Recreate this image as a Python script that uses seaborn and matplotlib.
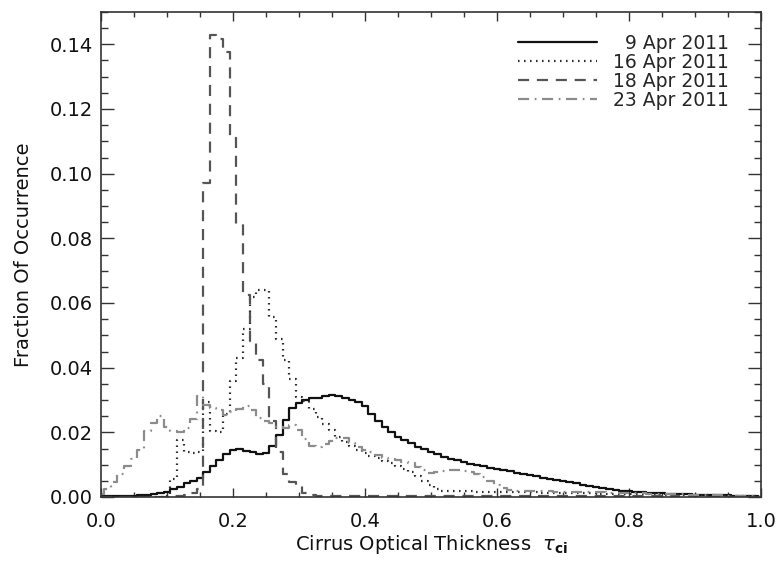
import numpy as np
import pandas as pd
import matplotlib
matplotlib.use("Agg")
import matplotlib.pyplot as plt
from matplotlib.ticker import MultipleLocator, FormatStrFormatter
import seaborn as sns

# ---------------- data (bin centres of the optical-thickness histogram) -------------
tau_centers = np.round(np.linspace(0.0, 1.0, 101), 2)
dates = ["9 Apr 2011", "16 Apr 2011", "18 Apr 2011", "23 Apr 2011"]

apr09 = [
    0.0004, 0.0002, 0.0002, 0.0002, 0.0003, 0.0004, 0.0005, 0.0007, 0.0009, 0.0011,
    0.0014, 0.0024, 0.0032, 0.0042, 0.0050, 0.0060, 0.0078, 0.0096, 0.0115, 0.0133,
    0.0145, 0.0147, 0.0143, 0.0138, 0.0134, 0.0135, 0.0158, 0.0192, 0.0238, 0.0274,
    0.0292, 0.0300, 0.0305, 0.0307, 0.0311, 0.0314, 0.0312, 0.0305, 0.0300, 0.0293,
    0.0280, 0.0258, 0.0236, 0.0216, 0.0200, 0.0187, 0.0176, 0.0166, 0.0156, 0.0147,
    0.0139, 0.0132, 0.0125, 0.0119, 0.0113, 0.0108, 0.0103, 0.0099, 0.0095, 0.0091,
    0.0087, 0.0083, 0.0079, 0.0075, 0.0071, 0.0068, 0.0064, 0.0060, 0.0056, 0.0052,
    0.0049, 0.0045, 0.0042, 0.0038, 0.0035, 0.0031, 0.0028, 0.0025, 0.0022, 0.0020,
    0.0018, 0.0016, 0.0014, 0.0013, 0.0012, 0.0011, 0.0010, 0.0009, 0.0009, 0.0008,
    0.0007, 0.0007, 0.0006, 0.0006, 0.0005, 0.0005, 0.0004, 0.0003, 0.0003, 0.0002,
    0.0001,
]
apr16 = [
    0.0000, 0.0000, 0.0000, 0.0000, 0.0000, 0.0000, 0.0000, 0.0000, 0.0000, 0.0001,
    0.0004, 0.0055, 0.0176, 0.0140, 0.0135, 0.0140, 0.0295, 0.0205, 0.0202, 0.0258,
    0.0360, 0.0430, 0.0520, 0.0620, 0.0640, 0.0640, 0.0557, 0.0490, 0.0425, 0.0365,
    0.0308, 0.0298, 0.0272, 0.0247, 0.0226, 0.0206, 0.0187, 0.0171, 0.0157, 0.0146,
    0.0136, 0.0128, 0.0120, 0.0112, 0.0104, 0.0096, 0.0086, 0.0076, 0.0064, 0.0050,
    0.0036, 0.0024, 0.0020, 0.0019, 0.0019, 0.0018, 0.0018, 0.0017, 0.0017, 0.0016,
    0.0016, 0.0015, 0.0015, 0.0015, 0.0014, 0.0014, 0.0014, 0.0013, 0.0013, 0.0013,
    0.0012, 0.0012, 0.0012, 0.0011, 0.0011, 0.0011, 0.0010, 0.0010, 0.0010, 0.0009,
    0.0009, 0.0009, 0.0008, 0.0008, 0.0008, 0.0007, 0.0007, 0.0007, 0.0006, 0.0006,
    0.0006, 0.0005, 0.0005, 0.0005, 0.0004, 0.0004, 0.0004, 0.0003, 0.0003, 0.0002,
    0.0001,
]
apr18 = [
    0.0000, 0.0000, 0.0000, 0.0000, 0.0000, 0.0000, 0.0000, 0.0000, 0.0000, 0.0000,
    0.0001, 0.0002, 0.0004, 0.0007, 0.0012, 0.0025, 0.0970, 0.1428, 0.1418, 0.1375,
    0.1110, 0.0844, 0.0624, 0.0483, 0.0424, 0.0351, 0.0236, 0.0138, 0.0070, 0.0045,
    0.0035, 0.0013, 0.0005, 0.0003, 0.0003, 0.0003, 0.0003, 0.0003, 0.0003, 0.0003,
    0.0003, 0.0003, 0.0003, 0.0003, 0.0003, 0.0003, 0.0003, 0.0003, 0.0003, 0.0003,
    0.0003, 0.0003, 0.0003, 0.0003, 0.0003, 0.0003, 0.0003, 0.0003, 0.0003, 0.0003,
    0.0003, 0.0003, 0.0003, 0.0003, 0.0003, 0.0003, 0.0003, 0.0003, 0.0002, 0.0002,
    0.0002, 0.0002, 0.0002, 0.0002, 0.0002, 0.0002, 0.0002, 0.0002, 0.0002, 0.0002,
    0.0002, 0.0002, 0.0002, 0.0002, 0.0002, 0.0002, 0.0002, 0.0002, 0.0001, 0.0001,
    0.0001, 0.0001, 0.0001, 0.0001, 0.0001, 0.0001, 0.0001, 0.0001, 0.0001, 0.0001,
    0.0001,
]
apr23 = [
    0.0008, 0.0025, 0.0045, 0.0070, 0.0095, 0.0118, 0.0145, 0.0205, 0.0230, 0.0252,
    0.0215, 0.0205, 0.0200, 0.0212, 0.0240, 0.0312, 0.0285, 0.0275, 0.0268, 0.0255,
    0.0262, 0.0272, 0.0280, 0.0269, 0.0243, 0.0235, 0.0230, 0.0217, 0.0212, 0.0223,
    0.0207, 0.0178, 0.0158, 0.0156, 0.0163, 0.0172, 0.0183, 0.0182, 0.0168, 0.0156,
    0.0146, 0.0140, 0.0130, 0.0122, 0.0118, 0.0114, 0.0109, 0.0104, 0.0094, 0.0082,
    0.0075, 0.0078, 0.0081, 0.0083, 0.0083, 0.0081, 0.0078, 0.0070, 0.0062, 0.0050,
    0.0038, 0.0028, 0.0023, 0.0020, 0.0020, 0.0019, 0.0019, 0.0018, 0.0018, 0.0017,
    0.0017, 0.0016, 0.0016, 0.0015, 0.0015, 0.0014, 0.0014, 0.0013, 0.0013, 0.0012,
    0.0012, 0.0011, 0.0011, 0.0010, 0.0010, 0.0009, 0.0009, 0.0008, 0.0008, 0.0007,
    0.0007, 0.0006, 0.0006, 0.0005, 0.0005, 0.0004, 0.0004, 0.0003, 0.0003, 0.0002,
    0.0001,
]
x_ticks = [0.0, 0.2, 0.4, 0.6, 0.8, 1.0]
y_ticks = [0.00, 0.02, 0.04, 0.06, 0.08, 0.10, 0.12, 0.14]

# ---------------- tidy table --------------------------------------------------------
frames = []
for name, vals in zip(dates, [apr09, apr16, apr18, apr23]):
    frames.append(pd.DataFrame({"tau": tau_centers, "frac": vals, "date": name}))
df = pd.concat(frames, ignore_index=True)

# ---------------- style ------------------------------------------------------------
sns.set_style("ticks")
plt.rcParams["font.family"] = ["DejaVu Sans"]
plt.rcParams["mathtext.fontset"] = "dejavusans"
FS = 14
LFS = 13.5

palette = {"9 Apr 2011": "#111111", "16 Apr 2011": "#2e2e2e",
           "18 Apr 2011": "#555555", "23 Apr 2011": "#8c8c8c"}
dashes = {"9 Apr 2011": "", "16 Apr 2011": (0.7, 2.0),
          "18 Apr 2011": (5, 3.5), "23 Apr 2011": (5, 2.5, 0.8, 2.5)}

fig = plt.figure(figsize=(7.79, 5.70), dpi=100)
ax = fig.add_axes([101 / 779, 73 / 570, 660 / 779, 485 / 570])

sns.lineplot(data=df, x="tau", y="frac", hue="date", style="date",
             hue_order=dates, style_order=dates, palette=palette, dashes=dashes,
             drawstyle="steps-mid", lw=1.6, estimator=None, sort=True, ax=ax)

ax.set_xlim(0, 1.0)
ax.set_ylim(0, 0.15)
ax.set_xticks(x_ticks)
ax.set_yticks(y_ticks)
ax.xaxis.set_major_formatter(FormatStrFormatter("%.1f"))
ax.yaxis.set_major_formatter(FormatStrFormatter("%.2f"))
ax.xaxis.set_minor_locator(MultipleLocator(0.05))
ax.yaxis.set_minor_locator(MultipleLocator(0.005))

ax.tick_params(which="both", direction="in", top=True, right=True,
               color="#333333", width=1.0, labelsize=FS, labelcolor="#111111")
ax.tick_params(axis="x", which="major", length=6.5, pad=11)
ax.tick_params(axis="x", which="minor", length=3.6)
ax.tick_params(axis="y", which="major", length=9.5, pad=6)
ax.tick_params(axis="y", which="minor", length=5.0)
for sp in ax.spines.values():
    sp.set_visible(True)
    sp.set_color("#333333")
    sp.set_linewidth(1.2)

ax.set_xlabel(r"Cirrus Optical Thickness  $\tau_{\mathbf{ci}}$", fontsize=FS,
              color="#111111", labelpad=1.5)
ax.set_ylabel("Fraction Of Occurrence", fontsize=FS, color="#111111", labelpad=12)

handles, labels = ax.get_legend_handles_labels()
leg = ax.legend(handles, labels, loc="upper right", bbox_to_anchor=(0.952, 0.955),
                frameon=False, fontsize=LFS, handlelength=4.2, handletextpad=0.9,
                labelspacing=0.0, borderpad=0, borderaxespad=0)
for line in leg.get_lines():
    line.set_linewidth(1.6)

# right-align legend texts
fig.canvas.draw()
renderer = fig.canvas.get_renderer()
texts = leg.get_texts()
widths = [t.get_window_extent(renderer).width for t in texts]
wmax = max(widths)
for t, w in zip(texts, widths):
    t.set_position((wmax - w, 0))

fig.savefig("out.png", dpi=100)
